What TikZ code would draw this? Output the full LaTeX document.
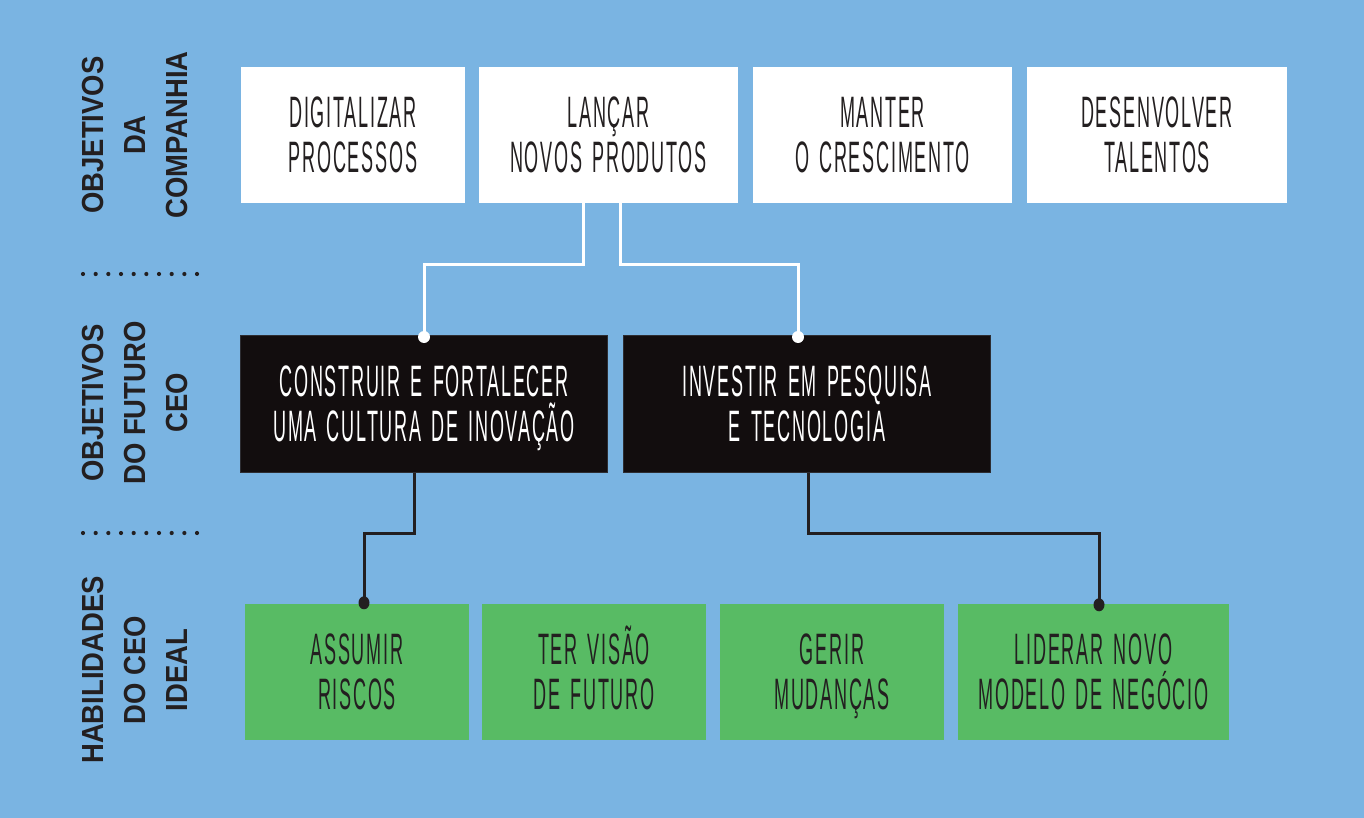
\documentclass[tikz,border=0pt]{standalone}
\usepackage{fontspec}
\usetikzlibrary{calc}
\setmainfont{Liberation Sans}
\newfontfamily\boxfont{Liberation Sans}[FakeStretch=0.41, LetterSpace=4, WordSpace=1.5]
\newfontfamily\labelfont{Liberation Sans}[FakeStretch=0.9]
\definecolor{sky}{RGB}{122,180,226}
\definecolor{leaf}{RGB}{88,187,100}
\definecolor{ink}{RGB}{35,31,32}
\definecolor{nightbox}{RGB}{18,13,14}
\definecolor{nightedge}{RGB}{45,45,50}
% two-line box text; the struts keep the baselines identical in every box
\newcommand\twolines[2]{\rule{0pt}{46pt}#1\\#2\rule[-16pt]{0pt}{0pt}}
\begin{document}
\begin{tikzpicture}[x=1pt,y=-1pt,
  card/.style={rectangle, inner sep=0pt, align=center,
    font=\boxfont\fontsize{44}{45}\selectfont},
  goal/.style={card, fill=white, text=ink, minimum height=136pt},
  ceo/.style={card, fill=nightbox, draw=nightedge, line width=1pt, text=white,
    minimum width=367pt, minimum height=137pt},
  skill/.style={card, fill=leaf, text=ink, minimum height=136pt},
  rowlabel/.style={rotate=90, align=center, text=ink, inner sep=0pt,
    font=\labelfont\bfseries\fontsize{30.5}{42}\selectfont},
  whitewire/.style={draw=white, line width=3pt},
  darkwire/.style={draw=ink, line width=3pt},
]
% canvas
\useasboundingbox (0,0) rectangle (1364,818);
\fill[sky] (0,0) rectangle (1364,818);

% row labels
\node[rowlabel] (lab1) at (135,135) {OBJETIVOS\\DA\\COMPANHIA};
\node[rowlabel] (lab2) at (135,403) {OBJETIVOS\\DO FUTURO\\CEO};
\node[rowlabel] (lab3) at (135,670) {HABILIDADES\\DO CEO\\IDEAL};

% dotted row separators
\foreach \yy in {274,533}
  \foreach \i in {0,...,9}
    \fill[ink] (83+12.67*\i,\yy) circle (2.1);

% company goals
\node[goal, minimum width=224pt] (g1) at (353,135) {\twolines{DIGITALIZAR}{PROCESSOS}};
\node[goal, minimum width=259pt] (g2) at (608.5,135) {\twolines{LANÇAR}{NOVOS PRODUTOS}};
\node[goal, minimum width=259pt] (g3) at (882.5,135) {\twolines{MANTER}{O CRESCIMENTO}};
\node[goal, minimum width=260pt] (g4) at (1157,135) {\twolines{DESENVOLVER}{TALENTOS}};

% future CEO goals
\node[ceo] (c1) at (424,404) {\twolines{CONSTRUIR E FORTALECER}{UMA CULTURA DE INOVAÇÃO}};
\node[ceo] (c2) at (807,404) {\twolines{INVESTIR EM PESQUISA}{E TECNOLOGIA}};

% ideal CEO skills
\node[skill, minimum width=224pt] (s1) at (357,672) {\twolines{ASSUMIR}{RISCOS}};
\node[skill, minimum width=224pt] (s2) at (594,672) {\twolines{TER VISÃO}{DE FUTURO}};
\node[skill, minimum width=224pt] (s3) at (832,672) {\twolines{GERIR}{MUDANÇAS}};
\node[skill, minimum width=271pt] (s4) at (1093.5,672) {\twolines{LIDERAR NOVO}{MODELO DE NEGÓCIO}};

% connectors: company goal -> CEO goals
\coordinate (w1) at ($(g2.south)+(-25.5,0)$);
\coordinate (w2) at ($(g2.south)+(11.5,0)$);
\coordinate (e1) at ($(c1.north)+(0,2)$);
\coordinate (e2) at ($(c2.north)+(-9,2)$);
\draw[whitewire] (w1) -- ($(w1)+(0,61)$) -| (e1);
\draw[whitewire] (w2) -- ($(w2)+(0,61)$) -| (e2);
\fill[white] (e1) circle (6);
\fill[white] (e2) circle (6);

% connectors: CEO goals -> skills
\coordinate (k1) at ($(c1.south)+(-10,0)$);
\coordinate (k2) at ($(c2.south)+(1,0)$);
\coordinate (t1) at ($(s1.north)+(7,-1)$);
\coordinate (t2) at ($(s4.north)+(5.5,1)$);
\draw[darkwire] (k1) -- ($(k1)+(0,60)$) -| (t1);
\draw[darkwire] (k2) -- ($(k2)+(0,60)$) -| (t2);
\fill[ink] (t1) ellipse (5.5 and 6.5);
\fill[ink] (t2) ellipse (5.5 and 6.5);
\end{tikzpicture}
\end{document}
